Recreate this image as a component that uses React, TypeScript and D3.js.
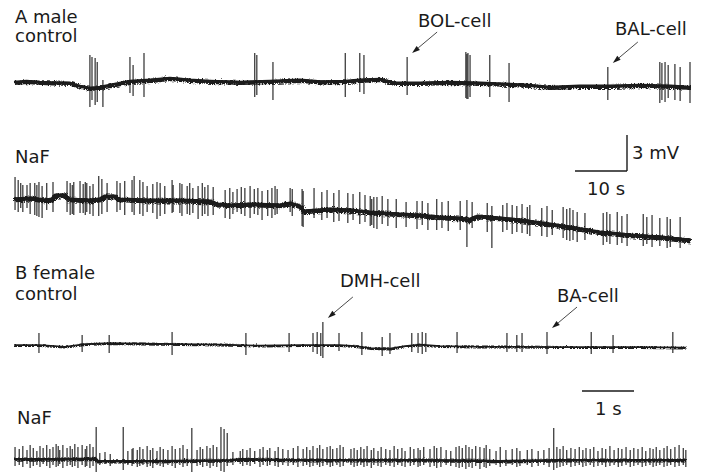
import React from "react";
import * as d3 from "d3";

const W = 701;
const H = 472;

// ---- Recording data -------------------------------------------------------
// Baselines: [time (s), potential (mV)]; spikes: [time (s), peak (mV), trough (mV)]

// A male, control (130 s sweep)
const maleControlBaseline: [number, number][] = [
  [0, 0], [2.4, 0.08], [5.0, 0], [7.5, -0.04], [10.8, -0.08], [12.7, -0.33], [14.6, -0.5],
  [16.5, -0.42], [19.4, -0.17], [22.3, 0.08], [26.2, 0.17], [30.0, 0.33], [33.8, 0.17],
  [37.7, 0.08], [43.5, 0], [49.2, 0.08], [55.0, 0.17], [59.0, 0.04], [63.7, 0.08], [66.5, 0.17],
  [70.4, 0.25], [73.3, -0.08], [78.1, -0.08], [83.8, 0], [89.6, -0.08], [95.4, -0.17],
  [99.0, -0.25], [103.1, -0.42], [108.8, -0.33], [114.6, -0.33], [120.4, -0.25],
  [126.2, -0.33], [130, -0.42],
];
const maleControlSpikes: [number, number, number][] = [
  [14.6, 2.25, -2.08], [15.0, 2.08, -1.5], [15.6, 2.0, -1.92], [16.0, 1.67, -1.67],
  [17.1, 0.17, -2.08], [22.3, 2.08, -0.92], [22.9, 1.42, -1.17], [25.0, 2.42, -1.25],
  [46.3, 2.42, -1.25], [46.7, 2.25, -1.08], [49.8, 1.67, -1.5], [63.7, 2.42, -1.25],
  [66.5, 2.42, -0.83], [67.3, 2.25, -1.0], [75.6, 2.08, -1.08], [86.9, 2.5, -1.33],
  [87.1, 2.33, -1.42], [87.3, 2.42, -1.42], [87.7, 2.25, -1.25], [91.5, 2.25, -1.25],
  [95.2, 1.58, -1.67], [114.2, 1.25, -1.5], [124.2, 1.67, -1.75], [124.6, 1.58, -1.5],
  [125.2, 1.67, -1.67], [125.8, 1.42, -1.33], [127.1, 1.5, -1.5], [128.1, 1.25, -1.58],
  [130.0, 1.67, -1.75],
];

// A male, NaF (130 s sweep)
const maleNaFBaseline: [number, number][] = [
  [0, -0.08], [3.1, 0], [6.0, -0.17], [7.3, -0.08], [7.9, 0.25], [9.8, 0.25], [10.4, -0.08],
  [14.6, -0.17], [16.5, -0.08], [17.5, 0.17], [19.4, 0.17], [20.0, -0.08], [26.2, -0.17],
  [31.9, -0.17], [37.7, -0.25], [38.8, -0.5], [42.1, -0.58], [45.4, -0.5], [51.2, -0.58],
  [53.1, -0.42], [55.0, -0.67], [55.6, -1.08], [60.8, -0.92], [64.6, -1.0], [68.5, -1.17],
  [74.2, -1.33], [78.1, -1.42], [81.9, -1.58], [85.8, -1.67], [87.3, -1.83], [89.2, -1.5],
  [93.5, -1.67], [97.3, -1.83], [103.1, -2.17], [106.9, -2.42], [112.7, -2.83],
  [118.5, -3.08], [124.2, -3.25], [130, -3.5],
];
const maleNaFSpikes: [number, number, number][] = [
  [0.2, 1.75, -1.0], [0.8, 1.5, -1.17], [1.3, 1.25, -0.83], [1.7, 1.08, -1.17],
  [2.5, 1.08, -0.83], [3.1, 1.25, -1.33], [4.0, 1.25, -1.42], [4.4, 1.08, -1.5],
  [4.8, 1.33, -1.58], [5.4, 1.0, -1.67], [6.3, 1.25, -1.0], [7.5, 1.33, -1.17],
  [10.2, 1.42, -1.17], [10.8, 1.25, -1.42], [11.2, 1.08, -1.33], [11.5, 1.33, -1.42],
  [12.7, 1.42, -1.25], [13.3, 1.17, -1.25], [13.7, 1.33, -1.42], [14.0, 1.25, -1.17],
  [14.6, 1.0, -1.33], [15.2, 1.17, -1.5], [16.3, 1.83, -1.5], [16.9, 1.58, -1.33],
  [17.9, 1.25, -1.17], [19.8, 1.42, -1.17], [20.4, 1.25, -1.0], [21.3, 1.42, -1.42],
  [22.7, 1.5, -1.17], [23.1, 1.83, -1.42], [24.2, 1.5, -1.33], [24.8, 1.33, -1.5],
  [25.6, 1.0, -1.17], [26.7, 1.17, -1.25], [27.5, 1.33, -1.75], [28.1, 1.25, -1.5],
  [29.0, 1.0, -1.33], [30.4, 1.5, -1.25], [30.6, 1.08, -1.17], [31.9, 1.25, -1.25],
  [32.3, 1.17, -1.5], [33.3, 1.0, -1.33], [33.8, 1.25, -1.42], [34.4, 0.83, -1.25],
  [35.4, 1.0, -1.75], [36.2, 1.25, -1.5], [36.7, 0.92, -1.33], [37.3, 1.08, -1.5],
  [38.3, 0.92, -1.42], [40.6, 0.67, -1.67], [41.5, 0.83, -1.75], [42.1, 0.5, -1.33],
  [42.9, 0.75, -1.17], [43.7, 0.92, -1.33], [44.4, 0.83, -1.5], [45.4, 1.0, -1.67],
  [46.2, 0.75, -1.33], [46.9, 0.83, -1.42], [47.7, 0.58, -1.83], [48.8, 0.67, -1.5],
  [49.6, 0.83, -1.67], [50.2, 1.0, -1.42], [50.6, 0.75, -1.33], [53.1, 0.83, -1.17],
  [53.5, 0.75, -1.5], [55.4, 0.75, -2.33], [55.6, 0.58, -2.42], [57.7, 0.83, -1.67],
  [59.2, 0.5, -1.83], [60.2, 0.67, -1.67], [61.5, 0.42, -2.0], [62.5, 0.67, -1.92],
  [64.2, 0.42, -2.08], [65.2, 0.33, -1.83], [66.5, 0.5, -2.17], [67.5, 0.25, -2.0],
  [68.5, 0.17, -2.33], [68.8, -0.08, -2.25], [69.2, 0.08, -2.5], [69.8, 0.08, -2.58],
  [70.8, 0.17, -2.17], [71.9, -0.08, -2.33], [73.5, -0.08, -2.5], [75.4, -0.33, -2.42],
  [77.5, -0.25, -2.58], [78.5, -0.25, -2.25], [79.6, -0.42, -2.67], [81.3, -0.08, -2.67],
  [82.3, -0.33, -2.5], [83.5, -0.25, -2.75], [85.8, -0.25, -2.67], [87.1, -0.17, -4.08],
  [88.1, -0.33, -2.5], [91.0, -0.42, -2.83], [91.9, -0.67, -4.17], [94.0, -0.58, -2.83],
  [94.8, -0.42, -2.67], [95.8, -0.58, -3.0], [96.7, -0.67, -2.83], [97.7, -0.5, -2.92],
  [98.7, -0.75, -3.0], [99.2, -0.58, -3.17], [101.5, -0.83, -3.17], [102.5, -0.67, -3.25],
  [103.5, -1.0, -3.08], [105.6, -0.75, -3.33], [106.3, -0.92, -3.5], [106.9, -0.83, -3.58],
  [107.5, -1.0, -3.5], [108.3, -1.17, -3.67], [109.8, -1.25, -3.5], [113.3, -1.25, -3.92],
  [114.0, -1.17, -3.67], [114.6, -1.33, -3.83], [116.0, -1.17, -3.92], [116.9, -1.5, -3.75],
  [117.9, -1.33, -4.0], [121.0, -1.33, -4.0], [121.7, -1.58, -3.83], [122.7, -1.42, -4.08],
  [124.2, -1.67, -4.0], [125.6, -1.58, -4.17], [126.2, -1.75, -4.08], [128.1, -1.58, -4.17],
];

// B female, control (13 s sweep)
const femaleControlBaseline: [number, number][] = [
  [0, 0], [0.5, 0], [0.98, -0.13], [1.37, 0.08], [1.85, 0.17], [2.42, 0.13], [3.19, 0.08],
  [3.96, 0.04], [4.73, -0.04], [5.5, 0], [6.27, 0], [6.56, -0.08], [6.85, -0.25],
  [7.23, -0.29], [7.52, -0.08], [7.81, 0.04], [8.19, -0.08], [8.96, -0.13], [9.73, -0.13],
  [10.5, -0.17], [11.27, -0.17], [12.04, -0.17], [12.92, -0.21],
];
const femaleControlSpikes: [number, number, number][] = [
  [0.48, 1.0, -0.67], [1.31, 0.83, -0.58], [1.83, 0.83, -0.67], [3.04, 1.08, -0.83],
  [4.46, 1.0, -0.83], [5.29, 1.0, -0.58], [5.75, 1.0, -0.58], [5.83, 1.08, -0.75],
  [5.9, 1.0, -0.92], [5.94, 1.92, -1.08], [6.25, 1.0, -0.5], [6.69, 1.08, -0.83],
  [7.08, 0.67, -0.92], [7.23, 1.0, -0.75], [7.65, 1.0, -0.58], [7.77, 1.0, -0.67],
  [7.85, 1.08, -0.75], [7.92, 1.0, -0.58], [8.52, 1.08, -0.67], [9.48, 1.0, -0.58],
  [9.67, 0.83, -0.58], [9.77, 1.0, -0.58], [10.25, 1.08, -0.75], [11.1, 1.08, -0.75],
  [11.52, 0.83, -0.67], [12.67, 1.08, -0.67],
];

// B female, NaF (13 s sweep)
const femaleNaFBaseline: [number, number][] = [
  [0, 0.08], [0.88, 0.08], [1.56, 0.13], [1.6, -0.08], [2.62, -0.08], [3.58, -0.04],
  [4.15, 0], [4.35, 0.08], [5.5, 0], [6.46, 0], [7.81, 0], [8.96, -0.04], [9.35, -0.08],
  [10.5, 0], [11.65, 0], [12.92, 0],
];
const femaleNaFSpikes: [number, number, number][] = [
  [0.02, 1.08, -0.5], [0.10, 0.92, -0.42], [0.17, 1.17, -0.58], [0.25, 0.83, -0.33],
  [0.31, 1.25, -0.67], [0.37, 1.0, -0.5], [0.44, 0.75, -0.42], [0.5, 1.17, -0.58],
  [0.56, 1.0, -0.33], [0.63, 1.25, -0.5], [0.69, 0.92, -0.67], [0.75, 1.08, -0.42],
  [0.81, 1.33, -0.58], [0.85, 1.17, -0.5], [0.88, 0.83, -0.33], [0.94, 1.25, -0.67],
  [1.02, 1.0, -0.5], [1.08, 1.17, -0.42], [1.12, 0.92, -0.58], [1.17, 1.33, -0.5],
  [1.23, 1.08, -0.67], [1.31, 1.25, -0.42], [1.37, 0.92, -0.58], [1.4, 1.17, -0.5],
  [1.46, 1.33, -0.67], [1.52, 1.08, -0.5], [1.58, 2.75, -1.0], [1.65, 0.58, -0.42],
  [1.75, 0.67, -0.33], [1.85, 0.5, -0.5], [2.1, 2.75, -0.83], [2.19, 0.75, -0.42],
  [2.27, 0.92, -0.5], [2.29, 1.0, -0.33], [2.37, 0.83, -0.58], [2.42, 1.08, -0.5],
  [2.48, 0.92, -0.42], [2.56, 1.17, -0.58], [2.62, 0.83, -0.5], [2.67, 1.0, -0.67],
  [2.75, 0.75, -0.42], [2.81, 1.08, -0.5], [2.87, 0.92, -0.58], [2.96, 0.83, -0.42],
  [3.04, 1.17, -0.5], [3.1, 0.92, -0.67], [3.19, 1.0, -0.42], [3.25, 1.25, -0.58],
  [3.33, 0.92, -0.5], [3.42, 2.67, -1.0], [3.52, 0.83, -0.5], [3.58, 1.08, -0.42],
  [3.63, 0.92, -0.58], [3.71, 1.17, -0.5], [3.77, 1.0, -0.67], [3.83, 1.25, -0.5],
  [3.9, 1.08, -0.58], [3.98, 2.75, -0.92], [4.04, 2.58, -1.0], [4.1, 2.25, -0.5],
  [4.21, 0.67, -0.42], [4.35, 0.75, -0.33], [4.4, 0.92, -0.5], [4.48, 0.83, -0.42],
  [4.54, 1.0, -0.5], [4.63, 0.75, -0.33], [4.73, 0.92, -0.58], [4.79, 1.08, -0.42],
  [4.87, 0.83, -0.5], [4.92, 1.0, -0.42], [5.02, 0.75, -0.5], [5.08, 1.08, -0.58],
  [5.17, 0.92, -0.42], [5.27, 0.83, -0.5], [5.37, 1.0, -0.42], [5.46, 1.17, -0.58],
  [5.56, 0.92, -0.5], [5.63, 1.08, -0.42], [5.69, 0.83, -0.58], [5.75, 1.17, -0.5],
  [5.83, 1.0, -0.42], [5.88, 1.25, -0.58], [5.94, 0.92, -0.5], [6.02, 1.08, -0.42],
  [6.08, 1.17, -0.58], [6.13, 0.92, -0.5], [6.21, 1.0, -0.42], [6.27, 1.25, -0.58],
  [6.33, 1.08, -0.5], [6.48, 0.92, -0.42], [6.54, 1.0, -0.58], [6.6, 0.83, -0.5],
  [6.67, 1.08, -0.42], [6.73, 0.92, -0.58], [6.79, 1.17, -0.5], [6.87, 0.83, -0.67],
  [6.92, 1.0, -0.42], [7.0, 0.75, -0.5], [7.06, 1.08, -0.58], [7.15, 0.92, -0.42],
  [7.23, 0.83, -0.5], [7.31, 1.17, -0.58], [7.38, 0.92, -0.42], [7.46, 1.0, -0.5],
  [7.52, 0.75, -0.58], [7.62, 1.08, -0.5], [7.69, 0.92, -0.42], [7.77, 1.0, -0.58],
  [7.81, 0.83, -0.5], [7.88, 1.08, -0.42], [8.0, 0.92, -0.58], [8.08, 1.17, -0.5],
  [8.13, 1.0, -0.67], [8.21, 1.08, -0.58], [8.31, 0.83, -0.42], [8.4, 0.75, -0.5],
  [8.5, 1.08, -0.58], [8.56, 1.17, -0.67], [8.62, 1.0, -0.58], [8.69, 1.25, -0.75],
  [8.75, 1.08, -0.58], [8.81, 0.92, -0.67], [8.88, 1.17, -0.5], [8.96, 1.08, -0.75],
  [9.04, 1.0, -0.58], [9.08, 1.25, -0.67], [9.15, 0.92, -0.5], [9.27, 0.75, -0.42],
  [9.35, 1.08, -0.58], [9.46, 0.83, -0.5], [9.58, 0.92, -0.42], [9.67, 1.0, -0.58],
  [9.73, 0.75, -0.5], [9.87, 0.83, -0.42], [9.96, 0.92, -0.58], [10.08, 0.75, -0.5],
  [10.19, 0.83, -0.42], [10.29, 1.0, -0.58], [10.38, 2.67, -0.83], [10.44, 1.08, -0.67],
  [10.5, 0.92, -0.58], [10.56, 1.17, -0.5], [10.63, 0.83, -0.42], [10.71, 1.0, -0.58],
  [10.79, 0.92, -0.5], [10.87, 1.08, -0.42], [10.94, 0.83, -0.58], [11.0, 1.0, -0.5],
  [11.08, 0.92, -0.42], [11.15, 1.08, -0.58], [11.23, 0.75, -0.5], [11.31, 1.0, -0.42],
  [11.38, 0.92, -0.58], [11.46, 1.17, -0.5], [11.54, 0.83, -0.42], [11.62, 1.0, -0.58],
  [11.69, 0.92, -0.5], [11.77, 1.08, -0.42], [11.85, 0.83, -0.58], [11.92, 1.0, -0.5],
  [12.0, 0.92, -0.42], [12.08, 1.08, -0.58], [12.15, 0.75, -0.5], [12.23, 1.0, -0.42],
  [12.29, 0.92, -0.58], [12.35, 1.08, -0.5], [12.42, 0.83, -0.42], [12.5, 1.0, -0.58],
  [12.56, 1.17, -0.5], [12.63, 0.92, -0.42], [12.71, 1.08, -0.58], [12.79, 1.25, -0.5],
  [12.87, 1.0, -0.42], [12.92, 0.83, -0.58],
];

// Scale-bar values
const maleBarSeconds = 10;
const maleBarMillivolts = 3;
const femaleBarSeconds = 1;

// ---- Layout ---------------------------------------------------------------
const INK = "#1a1a1a";
const FONT = "'DejaVu Sans', Verdana, sans-serif";
const PX_PER_MV = 12;

const xMale = d3.scaleLinear().domain([0, 130]).range([14, 690]);
const xFemale = d3.scaleLinear().domain([0, 13]).range([14, 690]);
const yAt = (zero: number) =>
  d3.scaleLinear().domain([0, 1]).range([zero, zero - PX_PER_MV]);

type Scale = d3.ScaleLinear<number, number>;

function Trace({
  baseline,
  spikes,
  x,
  y,
  band,
  rough,
}: {
  baseline: [number, number][];
  spikes: [number, number, number][];
  x: Scale;
  y: Scale;
  band: number;
  rough: string;
}) {
  const line = d3
    .line<[number, number]>()
    .x((d) => x(d[0]))
    .y((d) => y(d[1]))
    .curve(d3.curveLinear);
  const d = line(baseline) ?? "";
  return (
    <g>
      {/* solid core of the trace */}
      <path d={d} fill="none" stroke={INK} strokeWidth={band * 0.75} strokeLinejoin="round" />
      {/* ragged noise envelope */}
      <path
        d={d}
        fill="none"
        stroke={INK}
        strokeWidth={band * 1.15}
        strokeLinejoin="round"
        filter={`url(#${rough})`}
      />
      {spikes.map(([t, hi, lo], i) => (
        <line
          key={i}
          x1={x(t)}
          x2={x(t)}
          y1={y(hi)}
          y2={y(lo)}
          stroke={INK}
          strokeWidth={1.1}
        />
      ))}
    </g>
  );
}

function Callout({
  text,
  tx,
  ty,
  tip,
}: {
  text: string;
  tx: number;
  ty: number;
  tip: [number, number];
}) {
  const tail: [number, number] = [tip[0] + 25, tip[1] - 21];
  const ang = Math.atan2(tip[1] - tail[1], tip[0] - tail[0]);
  const len = 8;
  const half = 2.6;
  const bx = tip[0] - len * Math.cos(ang);
  const by = tip[1] - len * Math.sin(ang);
  const px = -Math.sin(ang) * half;
  const py = Math.cos(ang) * half;
  return (
    <g>
      <text x={tx} y={ty} fontFamily={FONT} fontSize={18} fill={INK}>
        {text}
      </text>
      <line x1={tail[0]} y1={tail[1]} x2={bx} y2={by} stroke={INK} strokeWidth={0.8} />
      <polygon
        points={`${tip[0]},${tip[1]} ${bx + px},${by + py} ${bx - px},${by - py}`}
        fill={INK}
      />
    </g>
  );
}

export default function App() {
  const yA1 = yAt(82);
  const yA2 = yAt(198);
  const yB1 = yAt(345);
  const yB2 = yAt(460);

  const spikeTop = (s: [number, number, number], x: Scale, y: Scale): [number, number] => [
    x(s[0]) + 5,
    y(s[1]) - 4,
  ];
  const bolSpike = maleControlSpikes.find((s) => s[0] === 75.6)!;
  const balSpike = maleControlSpikes.find((s) => s[0] === 114.2)!;
  const dmhSpike = femaleControlSpikes.find((s) => s[0] === 5.94)!;
  const baSpike = femaleControlSpikes.find((s) => s[0] === 10.25)!;

  // scale bars
  const barA_x1 = 627;
  const barA_x0 = barA_x1 - (xMale(maleBarSeconds) - xMale(0));
  const barA_y = 171;
  const barA_top = barA_y - maleBarMillivolts * PX_PER_MV;
  const barB_x0 = 582;
  const barB_x1 = barB_x0 + (xFemale(femaleBarSeconds) - xFemale(0));
  const barB_y = 391;

  const label = (t: string, x: number, y: number) => (
    <text x={x} y={y} fontFamily={FONT} fontSize={18} fill={INK}>
      {t}
    </text>
  );

  // recording noise texture on the traces
  const roughFilter = (id: string, freq: string, scale: number) => (
    <filter id={id} filterUnits="userSpaceOnUse" x={0} y={0} width={W} height={H}>
      <feTurbulence type="turbulence" baseFrequency={freq} numOctaves={2} seed={3} result="n" />
      <feDisplacementMap in="SourceGraphic" in2="n" scale={scale} xChannelSelector="R" yChannelSelector="G" />
    </filter>
  );

  return (
    <svg
      width={W}
      height={H}
      viewBox={`0 0 ${W} ${H}`}
      style={{ position: "absolute", left: 0, top: 0, background: "#fff" }}
    >
      <defs>
        {roughFilter("roughA", "0.9 0.6", 4)}
        {roughFilter("roughB", "0.9 0.6", 2.5)}
      </defs>
      <rect width={W} height={H} fill="#fff" />

      {label("A male", 15, 23)}
      {label("control", 15, 42)}
      <Trace baseline={maleControlBaseline} spikes={maleControlSpikes} x={xMale} y={yA1} band={3.6} rough="roughA" />
      <Callout text="BOL-cell" tx={418} ty={27} tip={spikeTop(bolSpike, xMale, yA1)} />
      <Callout text="BAL-cell" tx={615} ty={35} tip={spikeTop(balSpike, xMale, yA1)} />

      {label("NaF", 15, 163)}
      <Trace baseline={maleNaFBaseline} spikes={maleNaFSpikes} x={xMale} y={yA2} band={4.2} rough="roughA" />

      <g stroke={INK} strokeWidth={1.4} fill="none">
        <line x1={barA_x0} y1={barA_y} x2={barA_x1} y2={barA_y} />
        <line x1={barA_x1} y1={barA_y} x2={barA_x1} y2={barA_top} />
      </g>
      {label(`${maleBarMillivolts} mV`, 632, 159)}
      {label(`${maleBarSeconds} s`, 587, 195)}

      {label("B female", 15, 279)}
      {label("control", 15, 300)}
      <Trace baseline={femaleControlBaseline} spikes={femaleControlSpikes} x={xFemale} y={yB1} band={1.8} rough="roughB" />
      <Callout text="DMH-cell" tx={340} ty={287} tip={spikeTop(dmhSpike, xFemale, yB1)} />
      <Callout text="BA-cell" tx={557} ty={302} tip={spikeTop(baSpike, xFemale, yB1)} />

      <line x1={barB_x0} y1={barB_y} x2={barB_x1} y2={barB_y} stroke={INK} strokeWidth={1.4} />
      {label(`${femaleBarSeconds} s`, 595, 415)}

      {label("NaF", 17, 424)}
      <Trace baseline={femaleNaFBaseline} spikes={femaleNaFSpikes} x={xFemale} y={yB2} band={2.8} rough="roughB" />
    </svg>
  );
}
